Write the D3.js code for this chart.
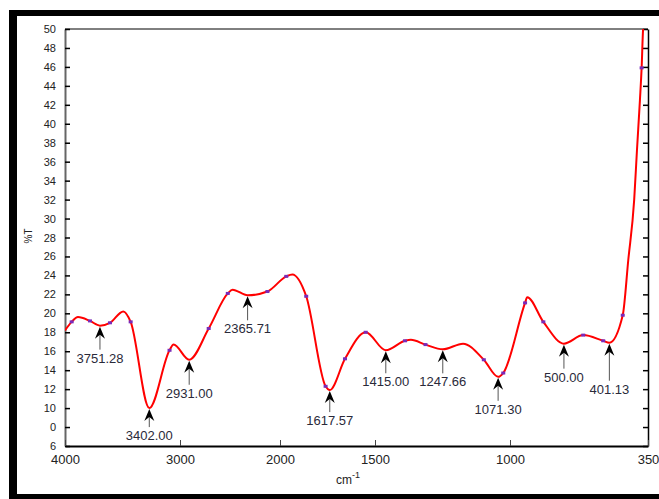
<!DOCTYPE html>
<html>
<head>
<meta charset="utf-8">
<script src="https://cdn.jsdelivr.net/npm/d3@7"></script>
<style>
  html, body { margin: 0; padding: 0; background: #fff; }
  svg { display: block; }
  text { font-family: "Liberation Sans", Arial, sans-serif; }
</style>
</head>
<body>
<div id="chart"></div>
<script>
// wavenumber (cm-1) and transmittance
var wavenumber = [4000, 3942, 3887, 3783, 3696, 3609, 3493, 3429, 3267, 3091, 3056, 2908,
  2713, 2522, 2475, 2324, 2126, 1967, 1935, 1862, 1760, 1738, 1658, 1549, 1460, 1389,
  1367, 1313, 1249, 1174, 1097, 1044, 1025, 929, 919, 843, 746, 655, 561, 532, 469,
  443, 415, 402, 388, 380, 373, 366];
var transmittance = [18.2, 19.1, 19.6, 19.2, 18.7, 19.0, 20.2, 19.1, 10.0, 16.1, 16.7, 15.1,
  18.4, 22.1, 22.5, 21.9, 22.3, 23.9, 24.1, 21.8, 12.3, 11.9, 15.2, 18.0, 16.1, 17.1,
  17.2, 16.7, 16.2, 16.8, 15.1, 13.3, 13.7, 21.1, 21.7, 19.1, 16.8, 17.7, 17.1, 16.9, 19.8,
  25.6, 32.0, 37.2, 42.5, 45.9, 50.0, 51.0];
// indices of the sampled points drawn as small squares
var markerIndex = [1, 3, 5, 7, 9, 12, 13, 16, 17, 19, 20, 22, 23, 25, 27, 30, 32, 33, 35, 37, 38, 40, 45];

// peak annotations
var peakLabels = ["3751.28", "3402.00", "2931.00", "2365.71", "1617.57", "1415.00",
  "1247.66", "1071.30", "500.00", "401.13"];
var peakWn = [3696, 3267, 2908, 2324, 1738, 1460, 1249, 1044, 746, 532];
var peakT = [18.7, 10.0, 15.1, 21.9, 11.9, 16.1, 16.2, 13.3, 16.8, 16.9];
var shaftLen = [23, 18, 24, 24, 21, 22, 23, 23, 24, 37];

// axis ticks
var xTicks = [4000, 3000, 2000, 1500, 1000, 350];
var yTicks = [6, 8, 10, 12, 14, 16, 18, 20, 22, 24, 26, 28, 30, 32, 34, 36, 38, 40, 42, 44, 46, 48, 50];
var yTickText = ["6", "0", "10", "12", "14", "16", "18", "20", "22", "24", "26", "28", "30",
  "32", "34", "36", "38", "40", "42", "44", "46", "48", "50"];

var W = 659, H = 499;
var plotL = 65, plotR = 648, plotT = 29, plotB = 446;

var svg = d3.select('#chart').append('svg').attr('width', W).attr('height', H);

// outer black frame (cropped on the right)
svg.append('rect').attr('x', 9).attr('y', 10).attr('width', W - 9).attr('height', 6).attr('fill', '#000');
svg.append('rect').attr('x', 9).attr('y', 10).attr('width', 8).attr('height', H - 10).attr('fill', '#000');
svg.append('rect').attr('x', 9).attr('y', 494).attr('width', W - 9).attr('height', 5).attr('fill', '#000');

// x axis is not linear in the original: piecewise scale
var x = d3.scaleLinear().domain(xTicks).range([plotL, 180, 280, 375, 510, plotR]);
var y = d3.scaleLinear().domain([6, 50]).range([plotB, plotT]);

svg.append('defs').append('clipPath').attr('id', 'plotclip')
  .append('rect').attr('x', plotL).attr('y', plotT).attr('width', plotR - plotL).attr('height', plotB - plotT);

// axes
var yAxis = svg.append('g').attr('transform', 'translate(' + plotL + ',0)')
  .call(d3.axisLeft(y).tickValues(yTicks).tickSize(-5).tickSizeOuter(0).tickPadding(9)
    .tickFormat(function (d, i) { return yTickText[i]; }));
yAxis.select('.domain').attr('stroke', '#666').attr('stroke-width', 2);
yAxis.selectAll('.tick line').attr('stroke', '#000').attr('stroke-width', 1.5);
yAxis.selectAll('text').attr('font-size', 11).attr('fill', '#222')
  .style('font-family', '"Liberation Sans", Arial, sans-serif');

var rAxis = svg.append('g').attr('transform', 'translate(' + plotR + ',0)')
  .call(d3.axisRight(y).tickValues(yTicks).tickSize(-5).tickSizeOuter(0).tickFormat(''));
rAxis.select('.domain').attr('stroke', '#000').attr('stroke-width', 1.5);
rAxis.selectAll('.tick line').attr('stroke', '#000').attr('stroke-width', 1.5);

var xAxis = svg.append('g').attr('transform', 'translate(0,' + plotB + ')')
  .call(d3.axisBottom(x).tickValues(xTicks).tickSize(-6).tickSizeOuter(0).tickPadding(9)
    .tickFormat(d3.format('d')));
xAxis.select('.domain').attr('stroke', '#000').attr('stroke-width', 2);
xAxis.selectAll('.tick line').attr('stroke', '#444');
xAxis.selectAll('text').attr('font-size', 13).attr('fill', '#222')
  .style('font-family', '"Liberation Sans", Arial, sans-serif');

// top border of the plot box
svg.append('line').attr('x1', plotL).attr('x2', plotR).attr('y1', plotT).attr('y2', plotT)
  .attr('stroke', '#000').attr('stroke-width', 1);

// axis titles
var xt = svg.append('text').attr('x', 348).attr('y', 484).attr('text-anchor', 'middle')
  .attr('font-size', 12).attr('fill', '#222');
xt.append('tspan').text('cm');
xt.append('tspan').attr('dy', -6).attr('font-size', 9).text('-1');

svg.append('text').attr('transform', 'translate(32,236) rotate(-90)').attr('text-anchor', 'middle')
  .attr('font-size', 10).attr('fill', '#222').text('%T');

// spectrum
var pts = wavenumber.map(function (w, i) { return [w, transmittance[i]]; });
var line = d3.line()
  .x(function (d) { return x(d[0]); })
  .y(function (d) { return y(d[1]); })
  .curve(d3.curveMonotoneX);

var plot = svg.append('g').attr('clip-path', 'url(#plotclip)');
plot.append('path').datum(pts).attr('d', line)
  .attr('fill', 'none').attr('stroke', '#ff0000').attr('stroke-width', 2);

plot.selectAll('rect.mk').data(markerIndex).enter().append('rect')
  .attr('class', 'mk')
  .attr('x', function (i) { return x(wavenumber[i]) - 2; })
  .attr('y', function (i) { return y(transmittance[i]) - 1.5; })
  .attr('width', 4).attr('height', 3)
  .attr('fill', '#7a2ab8');

// peak arrows and labels
var ann = svg.append('g').selectAll('g').data(peakLabels).enter().append('g')
  .attr('transform', function (d, i) {
    return 'translate(' + x(peakWn[i]) + ',' + (y(peakT[i]) + 1) + ')';
  });
ann.append('line').attr('x1', 0).attr('x2', 0).attr('y1', 8)
  .attr('y2', function (d, i) { return shaftLen[i]; })
  .attr('stroke', '#555').attr('stroke-width', 1);
ann.append('path').attr('d', 'M0,0L5,12L0,8L-5,12Z').attr('fill', '#000');
ann.append('text').attr('text-anchor', 'middle')
  .attr('y', function (d, i) { return shaftLen[i] + 13; })
  .attr('font-size', 13).attr('fill', '#2a2a3a')
  .text(function (d) { return d; });
</script>
</body>
</html>
